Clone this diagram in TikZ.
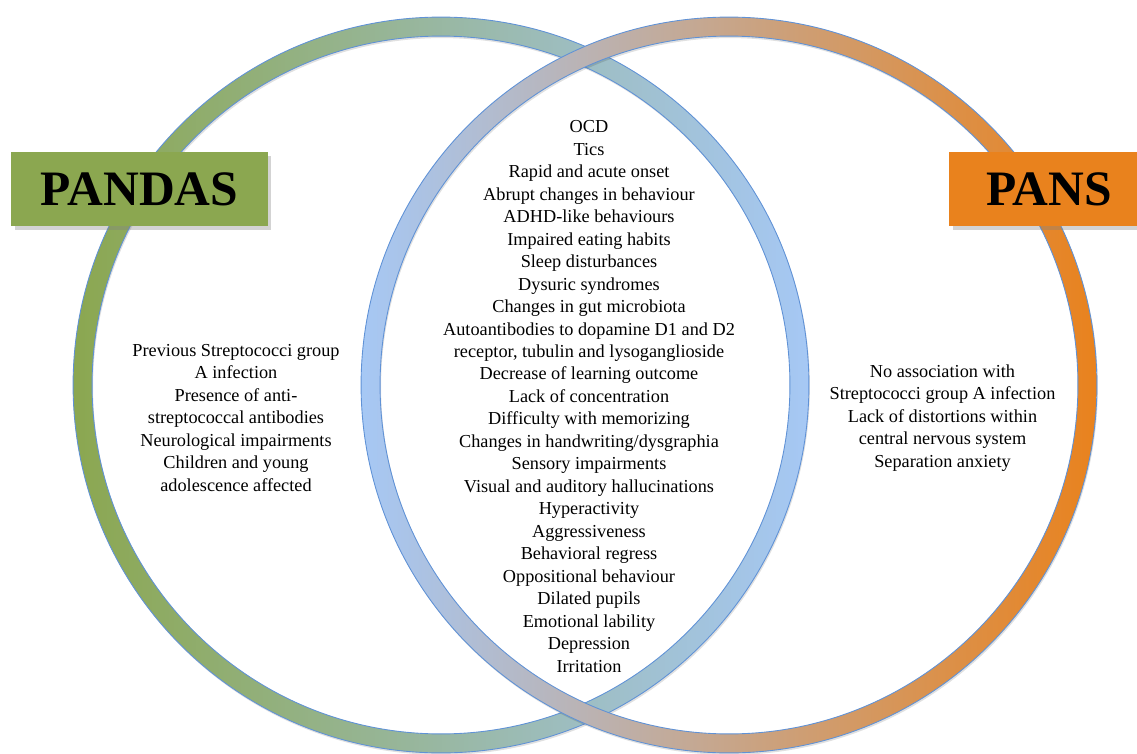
\documentclass[tikz,border=0pt]{standalone}
\usepackage{fontspec}
\setmainfont{Liberation Serif}
\usetikzlibrary{shadows, positioning}

\definecolor{grn}{RGB}{139,167,80}
\definecolor{blu}{RGB}{166,200,245}
\definecolor{org}{RGB}{233,130,29}
\definecolor{rim}{RGB}{96,146,214}

\begin{document}
\begin{tikzpicture}[x=0.02cm, y=-0.02cm,
  lbl/.style={align=center, font=\fontsize{10.4}{12.8}\selectfont},
  tag/.style={minimum width=5.14cm, minimum height=1.48cm, inner sep=0pt,
    font=\fontsize{28.2}{32}\selectfont\bfseries,
    drop shadow={shadow xshift=2pt, shadow yshift=-2pt, opacity=0.35}}]
\useasboundingbox (0,0) rectangle (1137,754);
% the two rings
\foreach \cx/\lc/\rc in {441/grn/blu, 729/blu/org}
{
    \fill[black, opacity=0.12, even odd rule] (\cx+1,387) circle (7.36cm) circle (6.98cm);
    \shade[left color=\lc, right color=\rc, even odd rule] (\cx,385) circle (7.36cm) circle (6.98cm);
    \draw[rim, line width=0.5pt] (\cx,385) circle (7.36cm) circle (6.98cm);
}
\node[tag, fill=grn] (pandas) at (139.5,189) {PANDAS};
\node[tag, fill=org, minimum width=4cm] (pans) at (1049,189) {PANS};
\node[lbl] (pandasinfo) at (236,418) {Previous Streptococci group\\A infection\\Presence of anti-\\streptococcal antibodies\\Neurological impairments\\Children and young\\adolescence affected};
\node[lbl] (shared) at (589,396.5) {OCD\\Tics\\Rapid and acute onset\\Abrupt changes in behaviour\\ADHD-like behaviours\\Impaired eating habits\\Sleep disturbances\\Dysuric syndromes\\Changes in gut microbiota\\Autoantibodies to dopamine D1 and D2\\receptor, tubulin and lysoganglioside\\Decrease of learning outcome\\Lack of concentration\\Difficulty with memorizing\\Changes in handwriting/dysgraphia\\Sensory impairments\\Visual and auditory hallucinations\\Hyperactivity\\Aggressiveness\\Behavioral regress\\Oppositional behaviour\\Dilated pupils\\Emotional lability\\Depression\\Irritation};
\node[lbl] (pansinfo) at (942.5,418) {No association with\\Streptococci group A infection\\Lack of distortions within\\central nervous system\\Separation anxiety};
\end{tikzpicture}
\end{document}
